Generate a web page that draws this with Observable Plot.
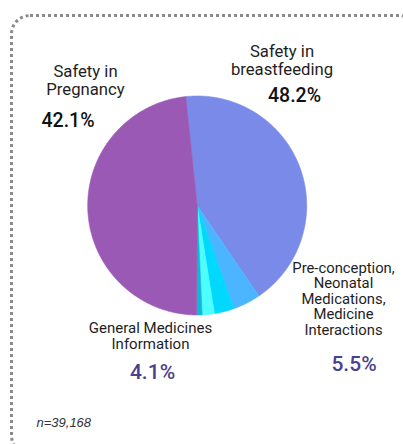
<!DOCTYPE html>
<html><head><meta charset="utf-8">
<script src="https://cdn.jsdelivr.net/npm/d3@7"></script>
<script src="https://cdn.jsdelivr.net/npm/@observablehq/plot@0.6"></script>
<style>
html,body{margin:0;padding:0;background:#fff;width:403px;height:444px;overflow:hidden;}
#chart{position:absolute;left:0;top:0;}
#frame{position:absolute;left:9.5px;top:13.5px;width:409px;height:442px;border:3px dotted #8a8a8a;border-radius:20px;box-sizing:border-box;pointer-events:none;}
</style></head><body>
<div id="chart"></div><div id="frame"></div>
<script>
// ---- data ----
const categories = ["Safety in Pregnancy", "General Medicines Information", "Pre-conception", "Neonatal Medications", "Medicine Interactions", "Safety in breastfeeding"];
const values = [42.1, 4.1, 2.9, 1.8, 0.8, 48.2];
const colors = ["#7a8ae8", "#4bb5ff", "#00d8fd", "#4dfdff", "#12b6d8", "#9b59b6"];
const labelTopRight = ["Safety in", "breastfeeding"];
const labelTopLeft = ["Safety in", "Pregnancy"];
const labelRight = ["Pre-conception,", "Neonatal", "Medications,", "Medicine", "Interactions"];
const labelBottom = ["General Medicines", "Information"];
const pctTopRight = "48.2%";
const pctTopLeft = "42.1%";
const pctRight = "5.5%";
const pctBottom = "4.1%";
const note = "n=39,168";

// ---- layout ----
const W = 403, H = 444;
const cx = 196.7, cy = 205, r = 109.5;
const deg = Math.PI / 180;
const arcs = d3.pie().sort(null).startAngle(-6 * deg).endAngle(354 * deg)(values);
const pts = [];
arcs.forEach((a, i) => {
  const name = categories[i];
  pts.push({name, x: cx, y: cy});
  const n = Math.max(2, Math.ceil((a.endAngle - a.startAngle) / (0.5 * deg)));
  for (let k = 0; k <= n; k++) {
    const t = a.startAngle + (a.endAngle - a.startAngle) * k / n;
    pts.push({name, x: cx + r * Math.sin(t), y: cy - r * Math.cos(t)});
  }
  pts.push({name, x: cx, y: cy});
});

const font = "Roboto, 'Noto Sans', sans-serif";
const lines = (arr, x, y0, step) => arr.map((t, i) => ({t, x, y: y0 + i * step}));
const txt = (data, o) => Plot.text(data, {x: "x", y: "y", text: "t", lineAnchor: "bottom", fontFamily: font, ...o});

const plot = Plot.plot({
  width: W, height: H,
  margin: 0,
  style: {background: "transparent", overflow: "visible"},
  x: {domain: [0, W], range: [0, W], axis: null},
  y: {domain: [0, H], range: [0, H], axis: null},
  color: {domain: categories, range: colors},
  marks: [
    Plot.line(pts, {x: "x", y: "y", z: "name", fill: "name", stroke: "name", strokeWidth: 0.6, curve: "linear"}),
    txt(lines(labelTopRight, 281.5, 56, 18.5), {fontSize: 16.7, fill: "#1e1e1e"}),
    txt(lines(labelTopLeft, 85, 76, 18.5), {fontSize: 16.7, fill: "#1e1e1e"}),
    txt(lines(labelRight, 343, 272, 15.5), {fontSize: 14.8, fill: "#1e1e1e"}),
    txt(lines(labelBottom, 150, 332, 16), {fontSize: 15, fill: "#1e1e1e"}),
    txt([{t: pctTopRight, x: 294, y: 101}], {fontSize: 19.5, fontWeight: 500, fill: "#111"}),
    txt([{t: pctTopLeft, x: 67.5, y: 126}], {fontSize: 19.5, fontWeight: 500, fill: "#111"}),
    txt([{t: pctRight, x: 353.5, y: 370}], {fontSize: 21, fontWeight: 500, fill: "#4b3f8e"}),
    txt([{t: pctBottom, x: 152, y: 378}], {fontSize: 21, fontWeight: 500, fill: "#4b3f8e"}),
    Plot.text([{t: note, x: 36, y: 426}], {x: "x", y: "y", text: "t", textAnchor: "start", lineAnchor: "bottom", fontFamily: "'Liberation Sans', Arial, sans-serif", fontStyle: "italic", fontSize: 13, fill: "#333"})
  ]
});
document.getElementById("chart").append(plot);
</script>
</body></html>
